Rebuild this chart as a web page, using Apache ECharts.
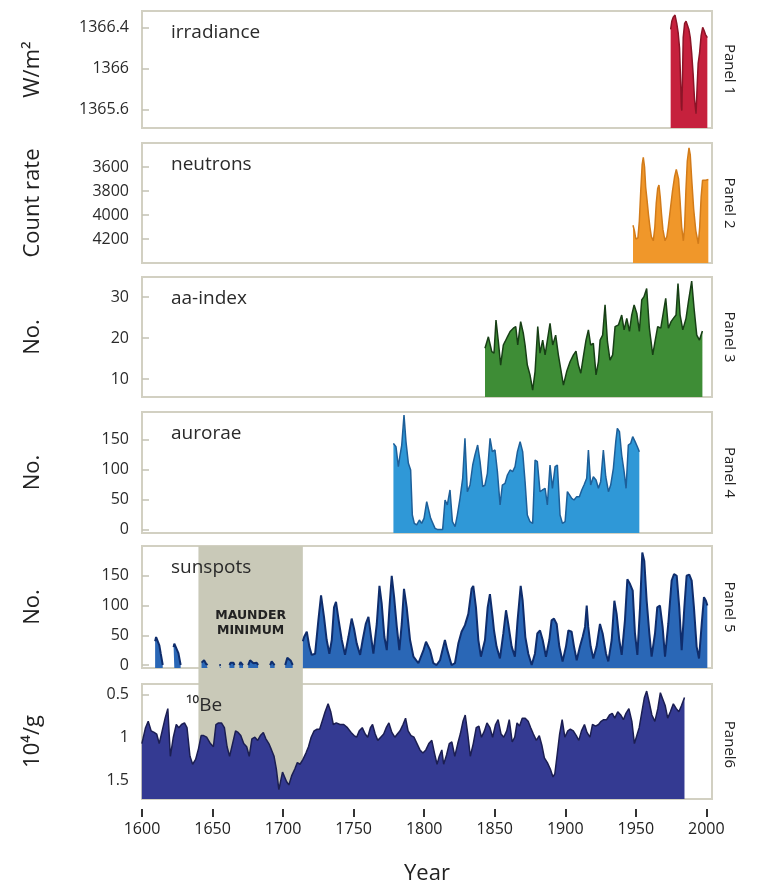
<!DOCTYPE html>
<html><head><meta charset="utf-8">
<script src="https://cdn.jsdelivr.net/npm/echarts@6/dist/echarts.min.js"></script>
<style>html,body{margin:0;padding:0;background:#fff}#c{width:767px;height:886px}</style>
</head><body><div id="c"></div>
<script>
// ---------------- DATA ----------------
const xTickYears = [1600,1650,1700,1750,1800,1850,1900,1950,2000];
const maunderMinimum = [1640, 1714];

const irradiance = [[1974.7,1366.38],[1975.5,1366.46],[1976.5,1366.5],[1977.8,1366.52],[1979,1366.44],[1980,1366.35],[1981,1366.2],[1981.7,1365.9],[1982.3,1365.62],[1982.6,1365.59],[1983.0,1365.85],[1983.6,1366.3],[1984.6,1366.44],[1985.6,1366.46],[1986.6,1366.42],[1987.6,1366.38],[1988.6,1366.3],[1989.6,1366.15],[1990.6,1365.95],[1991.6,1365.7],[1992.7,1365.56],[1993.4,1365.8],[1994.2,1366.05],[1995.2,1366.15],[1996.3,1366.32],[1997.4,1366.40],[1998.4,1366.37],[1999.4,1366.33],[2000.7,1366.30]];

const neutrons = [[1948.0,4085],[1949,4130],[1950,4200],[1950.6,4215],[1951.5,4190],[1952.5,4050],[1953.5,3800],[1954.5,3580],[1955.3,3520],[1956.2,3600],[1957,3770],[1958,3880],[1959,4000],[1960,4100],[1961,4180],[1962.4,4215],[1963.5,4100],[1964.5,3900],[1965.5,3780],[1966.4,3750],[1967.3,3850],[1968.2,3990],[1969.2,4120],[1970.7,4215],[1972,4180],[1973,4100],[1974.5,3950],[1976,3800],[1977.5,3680],[1978.7,3620],[1979.4,3605],[1980.3,3700],[1981.3,3870],[1982.5,4100],[1983.7,4215],[1984.6,4100],[1985.5,3800],[1986.5,3550],[1987.7,3440],[1988.6,3500],[1989.6,3700],[1991,3950],[1992.5,4130],[1994.3,4240],[1995.3,4100],[1996.3,3850],[1997.3,3710],[1997.9,3700],[1999.5,3710],[2001.4,3705]];

const aaIndex = [[1843.1,17.5],[1845.5,20.3],[1847.9,16.7],[1849.5,16.3],[1850.9,24.4],[1852.6,19.1],[1854.2,13.4],[1856.1,18.3],[1857.3,19.1],[1859.0,20.3],[1860.9,21.6],[1863.2,22.4],[1864.9,22.8],[1866.3,18.3],[1868.4,24.0],[1870.3,21.1],[1871.5,18.3],[1873.1,13.4],[1875.0,11.0],[1876.9,7.3],[1878.6,11.8],[1880.5,22.8],[1882.1,16.3],[1884.0,19.5],[1885.7,15.9],[1889.2,23.6],[1891.1,18.3],[1893.2,20.7],[1895.1,15.9],[1898.7,8.5],[1901.0,11.8],[1903.4,14.2],[1905.8,15.9],[1907.6,16.8],[1909.3,13.4],[1911.0,11.4],[1912.8,15.4],[1914.7,19.5],[1916.4,22.0],[1918.0,18.3],[1919.9,18.7],[1921.8,11.0],[1923.5,14.2],[1924.7,19.5],[1926.5,20.7],[1928.2,28.1],[1929.9,19.1],[1931.7,14.6],[1933.6,15.9],[1935.3,22.8],[1937.7,23.2],[1940.0,25.6],[1941.7,22.0],[1943.6,24.8],[1945.5,21.6],[1947.1,25.6],[1948.8,28.1],[1950.7,26.0],[1952.5,21.6],[1954.2,29.3],[1955.8,30.1],[1957.7,32.1],[1959.6,22.4],[1962.0,15.9],[1963.6,19.1],[1965.5,22.8],[1967.7,22.4],[1969.6,26.4],[1971.2,29.7],[1973.1,22.4],[1975.0,24.0],[1976.6,24.8],[1978.5,25.6],[1979.9,33.3],[1981.4,25.6],[1983.3,22.0],[1985.6,24.8],[1987.3,28.9],[1989.6,33.9],[1991.3,27.2],[1993.2,20.7],[1995.1,19.5],[1997.2,21.7]];

const aurorae = [[1778.2,143.7],[1780.0,138.1],[1781.7,104.7],[1782.9,124.2],[1784.1,140.9],[1785.7,191.0],[1787.1,146.5],[1788.8,110.3],[1790.4,99.2],[1791.6,24.0],[1793.0,10.1],[1794.7,7.4],[1796.6,15.7],[1798.2,10.1],[1799.9,18.5],[1801.8,46.3],[1803.0,49.1],[1804.6,18.5],[1806.0,15.7],[1807.7,1.8],[1809.3,0],[1811.2,0],[1813.1,0],[1814.8,49.1],[1816.4,40.8],[1818.3,65.8],[1820.0,12.9],[1821.9,4.6],[1823.5,24.0],[1825.4,51.9],[1827.3,85.3],[1828.9,152.1],[1830.6,63.0],[1832.5,74.1],[1834.4,107.5],[1836.0,124.2],[1837.9,140.9],[1839.6,113.1],[1841.5,71.4],[1843.1,74.1],[1844.8,93.6],[1846.7,152.1],[1848.3,129.8],[1850.2,132.6],[1851.9,96.4],[1853.8,40.8],[1855.4,74.1],[1857.3,76.9],[1859.0,90.8],[1860.9,99.2],[1862.7,96.4],[1864.4,104.7],[1866.1,129.8],[1868.0,146.5],[1869.8,129.8],[1871.5,79.7],[1873.1,24.0],[1875.0,12.9],[1876.9,10.1],[1878.6,115.9],[1880.2,113.1],[1882.1,63.0],[1883.8,65.8],[1885.7,68.6],[1887.3,40.8],[1889.2,107.5],[1890.9,68.6],[1892.8,104.7],[1894.4,107.5],[1896.3,24.0],[1898.0,10.1],[1899.9,12.9],[1901.5,63.0],[1902.9,65.8],[1904.6,51.9],[1906.2,49.1],[1908.1,54.7],[1910.0,54.7],[1911.7,65.8],[1913.3,74.1],[1915.2,85.3],[1916.4,132.6],[1918.0,74.1],[1919.9,88.0],[1921.8,82.5],[1923.5,68.6],[1925.1,79.7],[1927.0,132.6],[1928.7,88.0],[1930.6,63.0],[1932.2,74.1],[1934.1,102.0],[1935.8,146.5],[1936.9,168.7],[1938.4,163.2],[1940.0,124.2],[1941.7,96.4],[1943.1,68.6],[1944.7,140.9],[1946.4,143.7],[1947.8,154.8],[1949.5,146.5],[1951.1,138.1],[1952.5,129.8]];

const sunspots = [[1609.3,40],[1610.0,47],[1610.9,45],[1612.3,33],[1613.3,19],[1614.7,0],[1618,null],
[1622.4,30],[1622.9,36],[1624.1,35],[1625.8,20],[1627.4,0],[1635,null],
[1642.2,4],[1643.0,7],[1644.0,8],[1645.4,2],[1646.5,0],[1650,null],
[1654.8,0],[1655.3,2],[1655.9,0],[1658,null],
[1662.0,0],[1662.8,4],[1663.8,3],[1664.8,4],[1665.5,0],[1667,null],
[1669.0,0],[1669.8,5],[1670.8,3],[1671.6,0],[1673,null],
[1675.3,0],[1676.6,8],[1677.8,6],[1679.0,3],[1680.3,5],[1681.3,4],[1682.3,0],[1686,null],
[1690.8,0],[1691.9,6],[1693.0,4],[1694.0,0],[1698,null],
[1701.5,0],[1703.0,12],[1704.2,14],[1705.5,7],[1706.8,0],[1710,null],
[1714.0,40],[1714.9,47],[1716.8,56],[1718.6,31],[1720.3,17],[1722.7,19],[1725.0,75],[1726.9,117],[1729.0,81],[1730.9,42],[1732.8,19],[1734.5,42],[1736.1,97],[1737.5,106],[1739.4,75],[1741.6,42],[1743.9,17],[1746.3,47],[1748.6,78],[1750.3,61],[1752.2,36],[1754.6,17],[1756.4,42],[1758.6,69],[1760.5,81],[1762.4,47],[1764.0,19],[1766.4,69],[1768.3,133],[1769.9,103],[1771.8,47],[1773.5,25],[1775.4,97],[1777.0,150],[1778.7,114],[1780.6,64],[1782.4,25],[1784.1,69],[1785.7,128],[1787.6,97],[1790.0,42],[1792.4,14],[1795.9,3],[1799.5,25],[1801.3,39],
[1802.2,39],[1804.2,25],[1806.5,3],[1808.8,0],[1811.2,8],[1814.7,42],[1816.4,25],[1819.4,0],[1821.8,3],[1824.2,36],[1826.5,56],[1828.9,67],[1831.3,86],[1833.6,128],[1834.8,133],[1836.7,97],[1838.4,42],[1840.2,14],[1843.1,42],[1845.0,97],[1846.6,119],[1848.5,81],[1849.5,58],[1851.3,31],[1853.7,11],[1856.1,53],[1858.0,92],[1859.6,69],[1862.0,31],[1864.3,14],[1866.2,75],[1868.4,133],[1869.8,108],[1871.7,47],[1873.8,19],[1876.2,0],[1878.5,19],[1880.2,53],[1882.1,58],[1884.0,42],[1886.3,14],[1888.7,42],[1890.3,75],[1892.0,78],[1893.9,69],[1895.8,31],[1898.1,6],[1900.5,31],[1902.2,58],[1904.5,56],[1906.2,31],[1908.1,8],[1910.4,31],[1912.3,47],[1914.0,64],[1915.2,100],[1916.3,64],[1918.0,31],[1919.9,11],[1922.2,31],[1924.6,69],[1926.5,53],[1928.9,19],[1930.5,6],[1932.9,42],[1934.8,108],[1936.4,86],[1938.3,42],[1940.0,17],[1942.3,75],[1944.0,144],[1945.9,136],[1947.8,125],[1949.4,53],[1951.1,17],[1953.0,97],[1954.6,189],[1956.0,175],[1957.7,108],[1959.6,53],[1961.2,14],[1963.6,53],[1965.2,97],[1967.1,100],[1969.0,64],[1970.7,14],[1973.0,69],[1975.4,142],[1977.1,153],[1979.0,150],[1980.8,97],[1982.5,25],[1984.4,97],[1986.0,150],[1987.9,152],[1989.6,142],[1991.2,97],[1993.1,31],[1994.8,11],[1996.7,69],[1998.3,114],[1999.7,108],[2000.7,100]];

const beryllium10 = [[1599.9,1.074],[1602.5,0.889],[1604.4,0.815],[1606.5,0.926],[1608.6,0.944],[1610.4,0.963],[1612.2,1.074],[1614.3,0.926],[1616.4,0.778],[1618.3,0.667],[1620.1,1.222],[1622.2,1.000],[1624.3,0.852],[1626.1,0.889],[1628.0,0.852],[1630.1,0.833],[1631.9,0.889],[1634.0,1.222],[1635.9,1.315],[1638.0,1.259],[1640.1,1.130],[1641.9,0.981],[1643.7,0.981],[1645.8,1.000],[1648.5,1.074],[1650.6,1.111],[1652.4,0.852],[1654.2,0.833],[1656.3,0.833],[1658.4,0.889],[1660.3,1.111],[1662.1,1.222],[1664.2,1.074],[1666.3,0.926],[1668.1,0.944],[1670.0,0.981],[1672.1,1.074],[1674.2,1.111],[1676.0,1.222],[1677.9,1.019],[1680.0,1.000],[1682.0,1.037],[1683.9,0.981],[1686.0,0.944],[1687.8,1.019],[1689.9,1.074],[1691.8,1.148],[1693.6,1.222],[1695.2,1.370],[1697.0,1.611],[1698.3,1.593],[1699.6,1.407],[1701.0,1.389],[1702.5,1.519],[1704.1,1.556],[1706.2,1.444],[1708.3,1.370],[1710.1,1.296],[1712.0,1.315],[1714.1,1.259],[1716.2,1.185],[1718.0,1.111],[1719.9,1.000],[1722.0,0.926],[1724.1,0.907],[1725.9,0.907],[1727.7,0.815],[1729.8,0.704],[1731.9,0.611],[1733.8,0.704],[1735.6,0.852],[1737.7,0.833],[1740.3,0.852],[1743.0,0.852],[1745.6,0.889],[1748.2,0.944],[1750.3,0.981],[1752.1,1.000],[1754.0,0.926],[1756.1,0.889],[1758.2,0.963],[1760.0,1.000],[1761.9,0.889],[1763.4,0.852],[1765.3,0.963],[1767.1,1.037],[1769.2,1.000],[1771.3,0.963],[1773.1,0.889],[1775.0,0.833],[1777.1,0.944],[1779.2,1.000],[1781.0,0.963],[1782.9,0.926],[1785.0,0.852],[1786.8,0.778],[1788.6,0.926],[1790.7,0.981],[1792.8,1.000],[1794.9,1.074],[1797.0,1.148],[1799.1,1.185],[1801.2,1.148],[1803.3,1.074],[1805.4,1.037],[1807.3,1.185],[1809.1,1.315],[1810.7,1.222],[1812.5,1.148],[1813.8,1.315],[1815.9,1.204],[1817.8,1.074],[1819.6,1.056],[1821.7,1.222],[1823.8,1.074],[1825.6,0.963],[1827.5,0.815],[1829.1,0.741],[1830.9,0.963],[1832.7,1.222],[1834.8,1.074],[1836.9,0.889],[1838.8,0.870],[1840.6,1.000],[1842.7,0.926],[1844.5,0.833],[1846.6,0.889],[1848.5,1.000],[1850.6,0.852],[1852.4,0.796],[1854.5,0.963],[1856.4,1.000],[1858.5,0.926],[1860.3,0.796],[1862.4,1.056],[1864.2,1.000],[1865.8,0.833],[1867.6,0.870],[1869.5,0.778],[1871.6,0.778],[1873.7,0.815],[1875.5,0.889],[1877.4,0.963],[1879.5,1.037],[1881.6,0.981],[1883.4,1.093],[1885.2,1.241],[1887.3,1.296],[1889.4,1.370],[1891.3,1.463],[1892.6,1.426],[1894.4,1.185],[1896.0,0.963],[1897.8,0.796],[1899.7,1.000],[1901.8,0.926],[1903.6,0.907],[1905.7,0.926],[1907.8,0.981],[1909.6,1.037],[1911.5,0.926],[1913.6,0.852],[1915.4,0.944],[1917.5,1.000],[1919.3,0.852],[1921.5,0.870],[1923.6,0.852],[1925.4,0.815],[1927.2,0.796],[1929.3,0.796],[1931.4,0.741],[1933.3,0.722],[1935.1,0.778],[1937.2,0.704],[1939.3,0.741],[1941.2,0.796],[1943.0,0.722],[1945.1,0.667],[1947.2,0.815],[1949.0,1.074],[1950.3,1.093],[1952.4,0.889],[1954.3,0.704],[1956.1,0.537],[1957.7,0.463],[1959.5,0.593],[1961.4,0.741],[1963.5,0.815],[1965.6,0.667],[1967.4,0.481],[1968.7,0.463],[1970.8,0.630],[1972.6,0.778],[1974.5,0.704],[1976.6,0.611],[1978.7,0.667],[1980.5,0.704],[1982.4,0.630],[1984.5,0.537]];

const panelTitles = ['irradiance','neutrons','aa-index','aurorae','sunspots','\u00b9\u2070Be'];
const panelTags = ['Panel 1','Panel 2','Panel 3','Panel 4','Panel 5','Panel6'];
const yAxisNames = ['W/m\u00b2','Count rate','No.','No.','No.','10\u2074/g'];
const yTickValues = [[1365.6,1366,1366.4],[3600,3800,4000,4200],[10,20,30],[0,50,100,150],[0,50,100,150],[0.5,1,1.5]];
const yRanges = [[1365.42,1366.56],[3400,4400],[5.6,34.9],[-6,196],[-5,200],[0.38,1.72]];
const yInverse = [false,true,false,false,false,true];
const seriesData = [irradiance, neutrons, aaIndex, aurorae, sunspots, beryllium10];

// ---------------- STYLE / LAYOUT ----------------
const fills = ['#c6213d','#f0972a','#3e8d36','#2f98d7','#2a67b6','#343a92'];
const strokes = ['#8c1427','#d27b19','#173f15','#1d5f99','#0f2d6c','#1b1e52'];
const panelBoxes = [[11,117],[143,120],[277,120],[412,121],[546,122],[684,121]];
const GL = 142, GR = 55;
const FONT = 'Open Sans';

const chart = echarts.init(document.getElementById('c'), null, {renderer:'canvas'});

const grids = [], xAxes = [], yAxes = [], series = [];
for (let i = 0; i < 6; i++) {
  grids.push({left: GL, right: GR, top: panelBoxes[i][0], height: panelBoxes[i][1],
    show: true, borderColor: '#d2d0c2', borderWidth: 2, backgroundColor: 'transparent'});
  const isLast = i === 5;
  xAxes.push({
    gridIndex: i, type: 'value', min: 1600, max: 2004, show: isLast,
    position: 'bottom', offset: 10,
    axisLine: {show: false},
    axisTick: {show: true, length: 8, customValues: xTickYears, lineStyle: {color: '#333', width: 2}},
    axisLabel: {customValues: xTickYears, margin: 12, fontSize: 16, color: '#222', fontFamily: FONT,
      formatter: v => String(v)},
    splitLine: {show: false},
    name: isLast ? 'Year' : '', nameLocation: 'middle', nameGap: 54,
    nameTextStyle: {fontSize: 22, color: '#222', fontFamily: FONT}
  });
  yAxes.push({
    gridIndex: i, type: 'value', min: yRanges[i][0], max: yRanges[i][1], inverse: yInverse[i],
    axisLine: {show: false},
    axisTick: {show: true, inside: true, length: 7, customValues: yTickValues[i], lineStyle: {color: '#c4c2b4', width: 1.5}},
    axisLabel: {customValues: yTickValues[i], margin: 13, fontSize: 16, color: '#2a2a2a', fontFamily: FONT,
      formatter: v => String(v)},
    splitLine: {show: false},
    name: yAxisNames[i], nameLocation: 'middle', nameRotate: 90, nameGap: 98,
    nameTextStyle: {fontSize: 22, color: '#222', fontFamily: FONT}
  });
  series.push({
    type: 'line', xAxisIndex: i, yAxisIndex: i, data: seriesData[i],
    showSymbol: false, symbol: 'none', connectNulls: false, z: 3,
    lineStyle: {color: strokes[i], width: i === 4 ? 2 : 1.5},
    areaStyle: {color: fills[i], opacity: 1, origin: yInverse[i] ? 'end' : 'start'}
  });
}

chart.setOption({animation: false, grid: grids, xAxis: xAxes, yAxis: yAxes, series: series});

// graphics (band positioned through the axes' own scales)
const bx0 = chart.convertToPixel({xAxisIndex: 4}, maunderMinimum[0]);
const bx1 = chart.convertToPixel({xAxisIndex: 4}, maunderMinimum[1]);
const byTop = chart.convertToPixel({yAxisIndex: 4}, yRanges[4][1]);
const byBot = chart.convertToPixel({yAxisIndex: 5}, yRanges[5][1]);

const elements = [];
elements.push({id: 'band', type: 'rect', z: 1, silent: true,
  shape: {x: bx0, y: byTop, width: bx1 - bx0, height: byBot - byTop},
  style: {fill: '#c9c9b8'}});
elements.push({id: 'maunder', type: 'text', z: 10, x: (bx0 + bx1) / 2, y: 623,
  style: {text: 'MAUNDER\nMINIMUM', fill: '#222', font: 'bold 12.5px "DejaVu Sans"', align: 'center', verticalAlign: 'middle', lineHeight: 15}});
for (let i = 0; i < 6; i++) {
  const top = panelBoxes[i][0], h = panelBoxes[i][1];
  elements.push({id: 'title' + i, type: 'text', z: 10, x: i === 5 ? 186 : 171, y: top + 22,
    style: {text: panelTitles[i], fill: '#2a2a2a', font: '19px "' + FONT + '"', align: 'left', verticalAlign: 'middle'}});
  elements.push({id: 'tag' + i, type: 'text', z: 10, x: 729, y: top + h / 2, rotation: -Math.PI / 2,
    style: {text: panelTags[i], fill: '#222', font: '15px "' + FONT + '"', align: 'center', verticalAlign: 'middle'}});
}
chart.setOption({graphic: {elements: elements}});
</script>
</body></html>
